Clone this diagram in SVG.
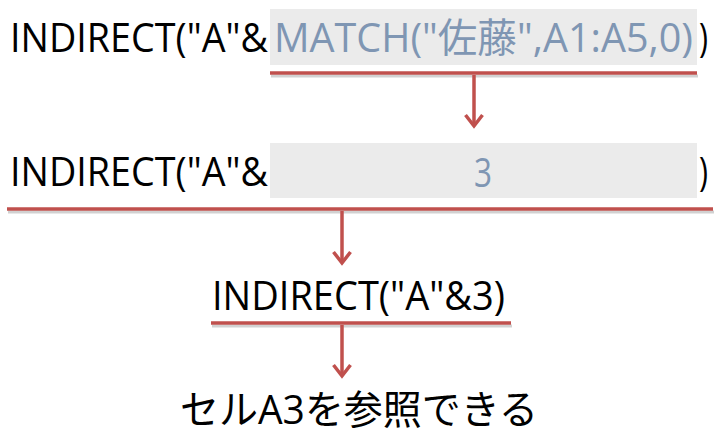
<svg xmlns="http://www.w3.org/2000/svg" width="724" height="440" viewBox="0 0 724 440">
<style>
.t{font-family:"Open Sans","Noto Sans","Noto Sans CJK JP",sans-serif;font-size:40px;fill:#000}
.b{fill:#7F96B3}
.hl{fill:#EBEBEB}
.rl{stroke:#C0504D;stroke-width:3.5;fill:none}
.sd{stroke:#000;stroke-opacity:0.18;stroke-width:3;fill:none}
.ar{stroke:#C0504D;stroke-width:3.5;fill:none;marker-end:url(#chev)}
</style>
<defs>
<marker id="chev" markerUnits="userSpaceOnUse" markerWidth="30" markerHeight="30" viewBox="0 0 30 30" refX="16" refY="15" orient="auto">
<path d="M5,6.5 L16,15 L5,23.5" stroke="#C0504D" stroke-width="3.5" fill="none" stroke-linejoin="miter"/>
</marker>
</defs>
<g id="step1">
<rect class="hl" x="270" y="9" width="427" height="56"/>
<text class="t" x="10" y="52" textLength="258" lengthAdjust="spacingAndGlyphs">INDIRECT("A"&amp;</text>
<text class="t b" x="274" y="52" textLength="419" lengthAdjust="spacingAndGlyphs">MATCH("佐藤",A1:A5,0)</text>
<text class="t" x="699" y="52" textLength="9" lengthAdjust="spacingAndGlyphs">)</text>
</g>
<g id="step2">
<rect class="hl" x="270" y="143" width="427" height="55"/>
<text class="t" x="10" y="186" textLength="258" lengthAdjust="spacingAndGlyphs">INDIRECT("A"&amp;</text>
<text class="t b" x="474" y="187" textLength="18" lengthAdjust="spacingAndGlyphs">3</text>
<text class="t" x="699" y="186" textLength="9" lengthAdjust="spacingAndGlyphs">)</text>
</g>
<g id="step3">
<text class="t" x="212" y="310" textLength="293" lengthAdjust="spacingAndGlyphs">INDIRECT("A"&amp;3)</text>
</g>
<g id="result">
<text class="t" x="180" y="424" textLength="358" lengthAdjust="spacingAndGlyphs">セルA3を参照できる</text>
</g>
<g id="connectors">
<line class="sd" x1="271" y1="76" x2="698" y2="76"/>
<line class="sd" x1="8" y1="212" x2="714" y2="212"/>
<line class="sd" x1="212" y1="326" x2="512" y2="326"/>
<line class="rl" x1="270" y1="73" x2="697" y2="73"/>
<line class="rl" x1="7" y1="209" x2="713" y2="209"/>
<line class="rl" x1="211" y1="323" x2="511" y2="323"/>
<line class="ar" x1="474" y1="75" x2="474" y2="126"/>
<line class="ar" x1="342" y1="211" x2="342" y2="263"/>
<line class="ar" x1="342" y1="325" x2="342" y2="376"/>
</g>
</svg>
